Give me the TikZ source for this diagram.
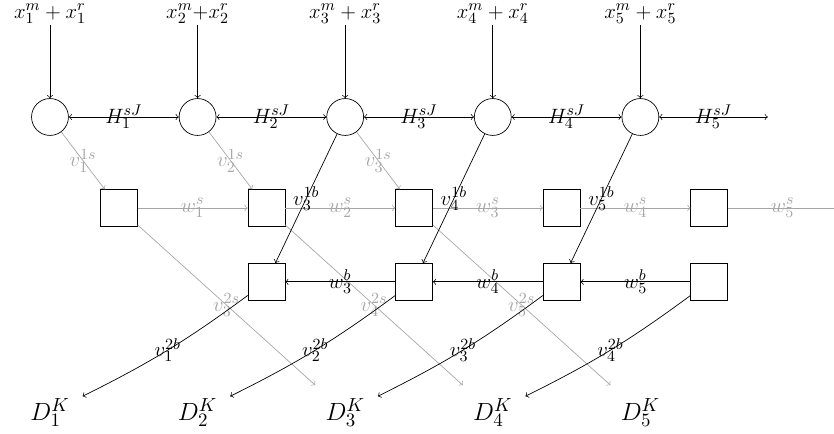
\documentclass[tikz,border=0pt]{standalone}
\definecolor{faint}{gray}{0.65}

\begin{document}
\begin{tikzpicture}[
    every node/.style={font=\fontsize{12.8}{15}\selectfont},
    junction/.style={draw, circle, minimum size=0.75cm, inner sep=0pt},
    cell/.style={draw, rectangle, minimum size=0.75cm, inner sep=0pt},
    src/.style={inner sep=1pt, anchor=south},
    sink/.style={font=\fontsize{15.4}{18}\selectfont, inner sep=7.3pt},
    pale/.style={color=faint},
]
\useasboundingbox (-1.016,-6.443) rectangle (15.935,2.378);

% junctions, the storage row above and the buffer row below
\foreach \i in {1,...,5}{
    \node[junction] (c\i) at ({3*(\i-1)}, 0) {};
    \node[cell] (s\i) at ({3*(\i-1)+1.4}, -1.85) {};
    \node[sink] (D\i) at ({3*(\i-1)}, -6) {$D_{\i}^K$};
}
\foreach \i in {2,...,5}{
    \node[cell] (b\i) at ({3*(\i-2)+4.4}, -3.35) {};
}

% what comes in at the top
\foreach \i/\t in {1/{x_1^m + x_1^r}, 2/{x_2^m{+}x_2^r}, 3/{x_3^m + x_3^r},
                   4/{x_4^m + x_4^r}, 5/{x_5^m + x_5^r}}{
    \node[src] (in\i) at ({3*(\i-1)}, 1.86) {$\t$};
    \draw[->] (in\i) -- (c\i);
}

% links between junctions
\coordinate (Hend) at (14.59, 0);
\foreach \i in {1,...,4}{
    \pgfmathtruncatemacro\j{\i+1}
    \draw[<->] (c\i) -- node {$H_{\i}^{sJ}$} (c\j);
}
\draw[<->] (c5) -- node {$H_5^{sJ}$} (Hend);

% storage side, in grey
\coordinate (Wend) at (16, -1.85);
\foreach \i in {1,...,3}{
    \draw[pale, ->] (c\i) -- node {$v_{\i}^{1s}$} (s\i);
}
\foreach \i in {1,...,4}{
    \pgfmathtruncatemacro\j{\i+1}
    \draw[pale, ->] (s\i) -- node {$w_{\i}^s$} (s\j);
}
\draw[pale, ->] (s5) -- node {$w_5^s$} (Wend);
\foreach \i in {1,...,3}{
    \pgfmathtruncatemacro\k{\i+2}
    \draw[pale, ->] (s\i) -- node {$v_{\k}^{2s}$} (D\k);
}

% buffer side
\foreach \k in {3,...,5}{
    \pgfmathtruncatemacro\j{\k-1}
    \draw[->] (c\k) -- node {$v_{\k}^{1b}$} (b\j);
    \draw[->] (b\k) -- node {$w_{\k}^b$} (b\j);
}
\foreach \j in {2,...,5}{
    \pgfmathtruncatemacro\i{\j-1}
    \draw[->] (b\j) to[bend left=5] node {$v_{\i}^{2b}$} (D\i);
}
\end{tikzpicture}
\end{document}
